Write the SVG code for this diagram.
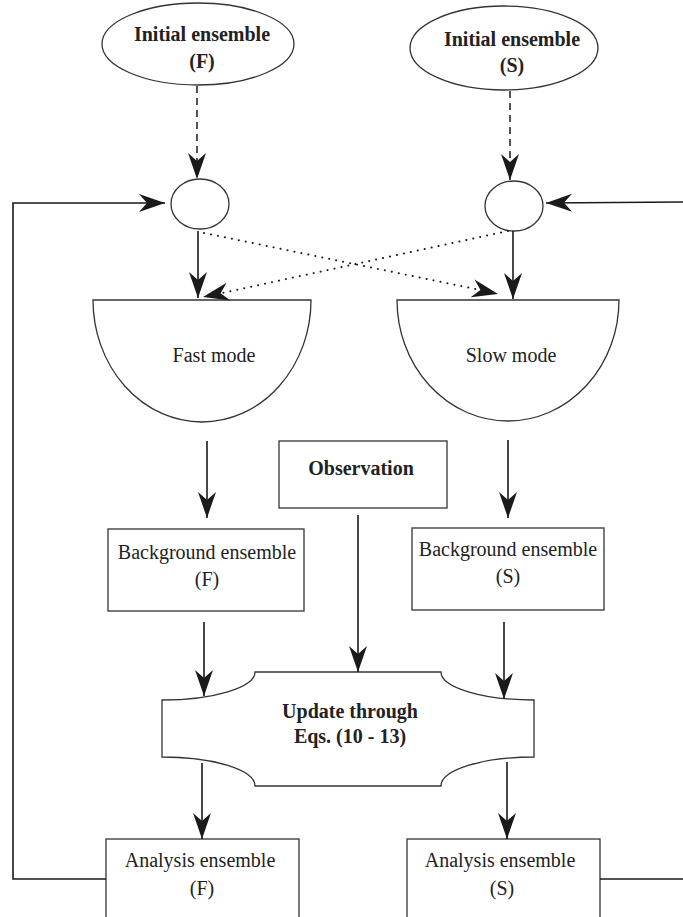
<svg xmlns="http://www.w3.org/2000/svg" width="683" height="917" viewBox="0 0 683 917">
<style>
.shape{fill:#fff;stroke:#333;stroke-width:1.3}
.ln{fill:none;stroke:#1a1a1a;stroke-width:1.6}
.dash{fill:none;stroke:#1a1a1a;stroke-width:1.5;stroke-dasharray:7 5}
.dot{fill:none;stroke:#1a1a1a;stroke-width:2;stroke-dasharray:0.1 7;stroke-linecap:round}
text{font-family:"Liberation Serif","Times New Roman",serif;font-size:20px;fill:#222;text-anchor:middle}
.b{font-weight:bold}
</style>
<defs>
<marker id="ah" markerUnits="userSpaceOnUse" viewBox="-28 -10 30 20" markerWidth="30" markerHeight="20" refX="0" refY="0" orient="auto">
<path d="M0,0 L-26,-9 L-18,0 L-26,9 Z" fill="#1a1a1a"/>
</marker>
</defs>
<g id="init-f"><ellipse class="shape" cx="198" cy="44" rx="96" ry="41"/><text class="b" x="202" y="41">Initial ensemble</text><text class="b" x="202" y="68">(F)</text></g>
<g id="init-s"><ellipse class="shape" cx="504" cy="48" rx="94" ry="42"/><text class="b" x="512" y="46">Initial ensemble</text><text class="b" x="512" y="72">(S)</text></g>
<g id="sum-f"><ellipse class="shape" cx="200" cy="204" rx="29" ry="25"/></g>
<g id="sum-s"><ellipse class="shape" cx="514" cy="206" rx="29" ry="25"/></g>
<g id="fast"><path class="shape" d="M93,300 L311,300 A109,122 0 0 1 93,300 Z"/><text x="214" y="362">Fast mode</text></g>
<g id="slow"><path class="shape" d="M397,300 L619,300 A111,121 0 0 1 397,300 Z"/><text x="511" y="362">Slow mode</text></g>
<g id="obs"><rect class="shape" x="279" y="441" width="168" height="67"/><text class="b" x="361" y="475">Observation</text></g>
<g id="bg-f"><rect class="shape" x="108" y="529" width="196" height="82"/><text x="207" y="559">Background ensemble</text><text x="207" y="586">(F)</text></g>
<g id="bg-s"><rect class="shape" x="412" y="528" width="192" height="82"/><text x="508" y="556">Background ensemble</text><text x="508" y="583">(S)</text></g>
<g id="update"><path class="shape" d="M255,672 L441,672 A93,28 0 0 0 534,700 L534,757 A93,29 0 0 0 441,786 L255,786 A93,29 0 0 0 162,757 L162,700 A93,28 0 0 0 255,672 Z"/><text class="b" x="350" y="718">Update through</text><text class="b" x="350" y="743">Eqs. (10 - 13)</text></g>
<g id="an-f"><rect class="shape" x="106" y="839" width="193" height="90"/><text x="200" y="867">Analysis ensemble</text><text x="202" y="895">(F)</text></g>
<g id="an-s"><rect class="shape" x="407" y="839" width="193" height="90"/><text x="500" y="867">Analysis ensemble</text><text x="502" y="895">(S)</text></g>
<g id="connectors">
<path class="dash" d="M197,86 L197,179" marker-end="url(#ah)"/>
<path class="dash" d="M510,91 L510,180" marker-end="url(#ah)"/>
<path class="ln" d="M106,879 L13,879 L13,203 L165,203" marker-end="url(#ah)"/>
<path class="ln" d="M600,879 L683,879"/>
<path class="ln" d="M683,202 L546,203" marker-end="url(#ah)"/>
<path class="ln" d="M198,231 L198,298" marker-end="url(#ah)"/>
<path class="ln" d="M513,231 L513,299" marker-end="url(#ah)"/>
<path class="dot" d="M204,233 L480,290"/>
<path class="ln" d="M480,290 L498,294" stroke-opacity="0" marker-end="url(#ah)"/>
<path class="dot" d="M508,231 L222,293"/>
<path class="ln" d="M222,293 L203,297" stroke-opacity="0" marker-end="url(#ah)"/>
<path class="ln" d="M207,441 L207,518" marker-end="url(#ah)"/>
<path class="ln" d="M508,440 L508,518" marker-end="url(#ah)"/>
<path class="ln" d="M204,622 L204,696" marker-end="url(#ah)"/>
<path class="ln" d="M358,515 L358,672" marker-end="url(#ah)"/>
<path class="ln" d="M504,622 L504,699" marker-end="url(#ah)"/>
<path class="ln" d="M202,763 L202,839" marker-end="url(#ah)"/>
<path class="ln" d="M507,762 L507,839" marker-end="url(#ah)"/>
</g>
</svg>
